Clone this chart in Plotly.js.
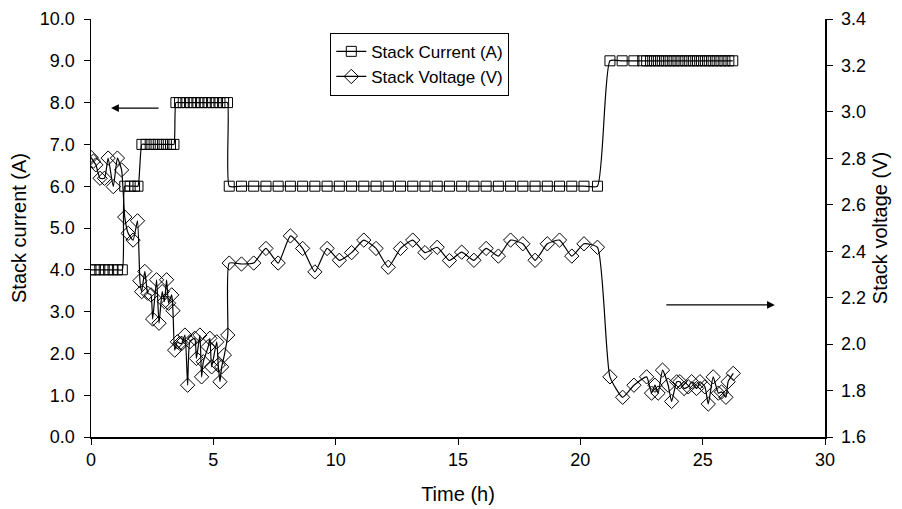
<!DOCTYPE html>
<html>
<head>
<meta charset="utf-8">
<script src="https://cdn.plot.ly/plotly-3.0.1.min.js"></script>
<style>html,body{margin:0;padding:0;background:#fff;}#chart{width:902px;height:509px;}</style>
</head>
<body>
<div id="chart"></div>
<script>
// Stack current (A) vs time (h)
const currentTime = [0,0.18,0.36,0.54,0.72,0.9,1.08,1.28,
  1.38,1.6,1.78,1.92,
  2.08,2.25,2.42,2.58,2.75,2.92,3.08,3.25,3.39,
  3.47,3.62,3.77,3.92,4.07,4.22,4.37,4.52,4.67,4.82,4.97,5.12,5.27,5.42,5.58,
  5.65,6.15,6.65,7.15,7.65,8.15,8.65,9.15,9.65,10.15,10.65,11.15,11.65,12.15,12.65,13.15,13.65,14.15,14.65,15.15,15.65,16.15,16.65,17.15,17.65,18.15,18.65,19.15,19.65,20.15,20.7,
  21.21,21.71,22.19,22.55,22.71,22.87,23.03,23.19,23.35,23.51,23.67,23.83,23.99,24.15,24.31,24.47,24.63,24.79,24.95,25.11,25.27,25.43,25.59,25.75,25.91,26.07,26.23];
const currentValues = [4,4,4,4,4,4,4,4,
  6,6,6,6,
  7,7,7,7,7,7,7,7,7,
  8,8,8,8,8,8,8,8,8,8,8,8,8,8,8,
  6,6,6,6,6,6,6,6,6,6,6,6,6,6,6,6,6,6,6,6,6,6,6,6,6,6,6,6,6,6,6,
  9,9,9,9,9,9,9,9,9,9,9,9,9,9,9,9,9,9,9,9,9,9,9,9,9,9,9];

// Stack voltage (V) vs time (h)
const voltageTime = [0,0.1,0.2,0.37,0.55,0.7,0.91,1.08,1.25,1.38,1.52,1.72,1.9,
  2.0,2.07,2.2,2.32,2.45,2.52,2.68,2.78,2.91,3.0,3.09,3.17,3.3,3.35,3.42,3.53,3.63,3.71,3.84,3.95,
  4.04,4.24,4.31,4.45,4.52,4.59,4.79,4.86,4.93,5.14,5.2,5.27,5.34,5.45,5.59,
  5.65,6.15,6.65,7.15,7.65,8.15,8.65,9.15,9.65,10.15,10.65,11.15,11.65,12.15,12.65,13.15,13.65,14.15,14.65,15.15,15.65,16.15,16.65,17.15,17.65,18.15,18.65,19.15,19.65,20.15,20.7,
  21.21,21.73,22.19,22.71,22.91,23.05,23.18,23.36,23.59,23.73,23.94,24.07,24.24,24.41,24.55,24.75,24.89,25.09,25.23,25.43,25.64,25.77,25.95,26.04,26.25];
const voltageValues = [2.804,2.788,2.772,2.714,2.714,2.801,2.678,2.801,2.750,2.547,2.477,2.448,2.531,
  2.273,2.226,2.313,2.219,2.212,2.108,2.277,2.090,2.226,2.183,2.277,2.176,2.212,2.144,1.974,2.010,2.003,2.003,2.039,1.823,
  2.010,2.025,1.938,2.039,1.859,1.924,1.989,2.025,1.902,2.010,1.910,1.838,1.902,1.953,2.039,
  2.349,2.345,2.349,2.412,2.349,2.466,2.412,2.311,2.412,2.361,2.394,2.448,2.412,2.331,2.412,2.448,2.394,2.417,2.360,2.396,2.361,2.412,2.379,2.448,2.432,2.361,2.432,2.448,2.379,2.432,2.417,
  1.859,1.771,1.823,1.859,1.789,1.823,1.789,1.888,1.823,1.753,1.838,1.838,1.809,1.816,1.838,1.809,1.838,1.816,1.742,1.859,1.789,1.794,1.771,1.838,1.874];

const xTicks = [0,5,10,15,20,25,30];
const leftTicks = [0,1,2,3,4,5,6,7,8,9,10];
const rightTicks = [1.6,1.8,2.0,2.2,2.4,2.6,2.8,3.0,3.2,3.4];

const FONT = 'Liberation Sans, Arial, sans-serif';
const NBSP = '\u00a0';

const traces = [
  {
    x: currentTime, y: currentValues, name: 'Stack Current (A)', type: 'scatter', mode: 'lines+markers',
    line: {color: '#000', width: 1.2, shape: 'spline', smoothing: 0.5},
    marker: {symbol: 'square-open', size: 10, color: '#000', line: {width: 1}},
    yaxis: 'y'
  },
  {
    x: voltageTime, y: voltageValues, name: 'Stack Voltage (V)', type: 'scatter', mode: 'lines+markers',
    line: {color: '#000', width: 1.2, shape: 'spline', smoothing: 0.5},
    marker: {symbol: 'diamond-open', size: 11, color: '#000', line: {width: 1}},
    yaxis: 'y2'
  }
];

const axisCommon = {
  showgrid: false, zeroline: false, showline: true, linecolor: '#000', linewidth: 1.5,
  ticks: 'outside', ticklen: 6, tickcolor: '#000', tickwidth: 1,
  tickfont: {family: FONT, size: 18, color: '#000'}
};

const layout = {
  width: 902, height: 509,
  margin: {l: 91, r: 77, t: 19, b: 72},
  paper_bgcolor: '#fff', plot_bgcolor: '#fff',
  font: {family: FONT, color: '#000'},
  showlegend: true,
  legend: {
    x: 0.326, y: 0.967, xanchor: 'left', yanchor: 'top',
    bgcolor: '#fff', bordercolor: '#000', borderwidth: 1,
    font: {family: FONT, size: 17, color: '#000'},
    tracegroupgap: 2, itemwidth: 30
  },
  xaxis: Object.assign({}, axisCommon, {
    range: [0, 30], tickvals: xTicks, ticktext: xTicks.map(String),
    title: {text: 'Time (h)', font: {family: FONT, size: 20, color: '#000'}, standoff: 18}
  }),
  yaxis: Object.assign({}, axisCommon, {
    range: [0, 10], tickvals: leftTicks, ticktext: leftTicks.map(v => v.toFixed(1) + NBSP),
    title: {text: 'Stack current (A)', font: {family: FONT, size: 20, color: '#000'}, standoff: 8}
  }),
  yaxis2: Object.assign({}, axisCommon, {
    range: [1.6, 3.4], tickvals: rightTicks, ticktext: rightTicks.map(v => NBSP + v.toFixed(1)),
    overlaying: 'y', side: 'right',
    title: {text: 'Stack voltage (V)', font: {family: FONT, size: 20, color: '#000'}, standoff: 8}
  }),
  annotations: [
    {x: 0.82, y: 7.87, xref: 'x', yref: 'y', ax: 49, ay: 0, text: '', showarrow: true,
     arrowhead: 2, arrowsize: 1.3, arrowwidth: 1.2, arrowcolor: '#000'},
    {x: 27.95, y: 3.16, xref: 'x', yref: 'y', ax: -110, ay: 0, text: '', showarrow: true,
     arrowhead: 2, arrowsize: 1.3, arrowwidth: 1.2, arrowcolor: '#000'}
  ]
};

Plotly.newPlot('chart', traces, layout, {displayModeBar: false, staticPlot: true});
</script>
</body>
</html>
